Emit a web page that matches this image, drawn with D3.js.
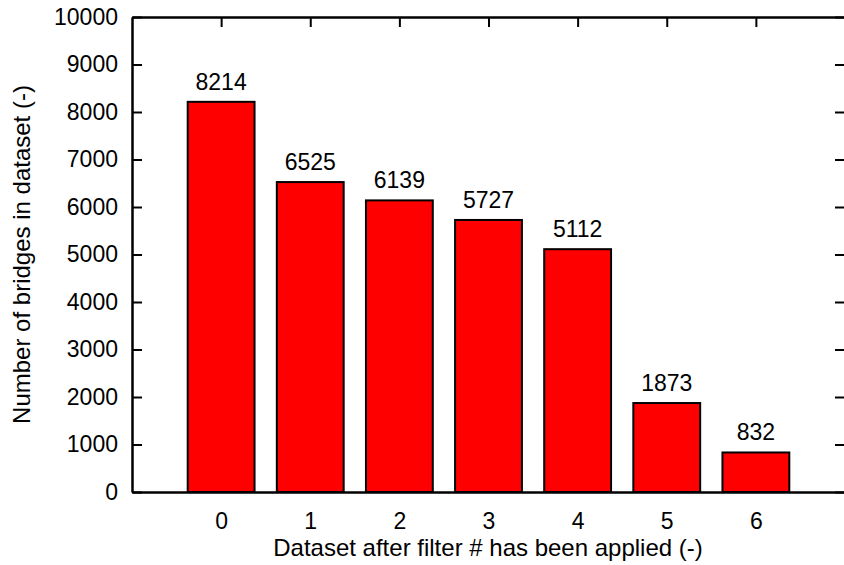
<!DOCTYPE html>
<html>
<head>
<meta charset="utf-8">
<script src="https://cdn.jsdelivr.net/npm/d3@7"></script>
<style>
  body { margin: 0; background: #fff; }
  text { font-family: "Liberation Sans", Arial, sans-serif; fill: #000; }
</style>
</head>
<body>
<script>
const filters = [0, 1, 2, 3, 4, 5, 6];
const bridges = [8214, 6525, 6139, 5727, 5112, 1873, 832];
const yTicks = [0, 1000, 2000, 3000, 4000, 5000, 6000, 7000, 8000, 9000, 10000];

const svgWidth = 844, svgHeight = 565;
const margin = { top: 17, right: -1, bottom: 73, left: 132 };
const width = svgWidth - margin.left - margin.right;
const height = svgHeight - margin.top - margin.bottom;

const svg = d3.select("body")
  .append("svg")
  .attr("width", svgWidth)
  .attr("height", svgHeight)
  .append("g")
  .attr("transform", `translate(${margin.left},${margin.top})`);

const x = d3.scaleLinear().domain([-1, 7]).range([0, width]);
const y = d3.scaleLinear().domain([0, 10000]).range([height, 0]);
const barW = x(0.75) - x(0);

// bars
svg.selectAll(".bar")
  .data(bridges)
  .enter()
  .append("rect")
  .attr("class", "bar")
  .attr("x", (d, i) => x(filters[i]) - barW / 2)
  .attr("y", d => y(d))
  .attr("width", barW)
  .attr("height", d => height - y(d))
  .attr("fill", "#ff0000")
  .attr("stroke", "#000")
  .attr("stroke-width", 2);

// value labels
svg.selectAll(".val")
  .data(bridges)
  .enter()
  .append("text")
  .attr("x", (d, i) => x(filters[i]))
  .attr("y", d => y(d) - 12)
  .attr("text-anchor", "middle")
  .style("font-size", "23px")
  .text(d => d);

// axes (ticks inward, mirrored)
const axLeft = svg.append("g")
  .call(d3.axisLeft(y).tickValues(yTicks).tickFormat(d3.format("d"))
    .tickSizeInner(-10).tickSizeOuter(0).tickPadding(14));
const axRight = svg.append("g")
  .attr("transform", `translate(${width},0)`)
  .call(d3.axisRight(y).tickValues(yTicks).tickSizeInner(-10).tickSizeOuter(0).tickFormat(""));
const axBottom = svg.append("g")
  .attr("transform", `translate(0,${height})`)
  .call(d3.axisBottom(x).tickValues(filters).tickFormat(d3.format("d"))
    .tickSizeInner(-10).tickSizeOuter(0).tickPadding(21));
const axTop = svg.append("g")
  .call(d3.axisTop(x).tickValues(filters).tickSizeInner(-10).tickSizeOuter(0).tickFormat(""));

[axLeft, axRight, axBottom, axTop].forEach(g => {
  g.select(".domain").attr("stroke-width", 2.5);
  g.selectAll(".tick line").attr("stroke-width", 2);
  g.selectAll(".tick text").style("font-size", "23px").attr("font-family", null);
});
axBottom.selectAll(".tick line").remove();

// axis titles
svg.append("text")
  .attr("transform", `translate(${22 - margin.left},${height / 2}) rotate(-90)`)
  .attr("text-anchor", "middle")
  .attr("dy", "0.35em")
  .style("font-size", "24px")
  .text("Number of bridges in dataset (-)");

svg.append("text")
  .attr("x", 488 - margin.left)
  .attr("y", height + 64)
  .attr("text-anchor", "middle")
  .style("font-size", "24px")
  .text("Dataset after filter # has been applied (-)");
</script>
</body>
</html>
